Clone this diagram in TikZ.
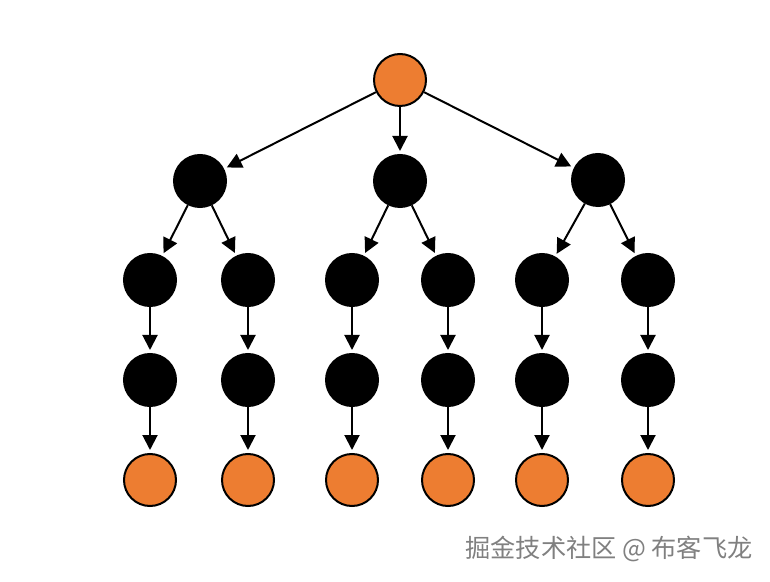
\documentclass[tikz,border=0pt]{standalone}
\usepackage{fontspec}
\newfontfamily\cjkfont{Noto Sans CJK SC}
\usetikzlibrary{arrows.meta}
\definecolor{leaforange}{HTML}{ED7D31}

\begin{document}
\begin{tikzpicture}[
    x=0.5pt, y=-0.5pt,
    edge/.style={draw=black, line width=1pt,
        -{Triangle[length=7.5pt, width=7.5pt]}, shorten >=1.5pt},
    tree node/.style={draw=black, circle, minimum size=26pt,
        inner sep=0pt, line width=1pt},
    inner/.style={tree node, fill=black},
    leaf/.style={tree node, fill=leaforange},
    watermark/.style={font=\cjkfont\fontsize{12.6pt}{15pt}\selectfont,
        text=black!50, inner sep=0pt}
]
    \path[use as bounding box] (0,0) rectangle (770,582);

    % root
    \node[leaf] (root) at (400,80) {};

    % first level
    \node[inner] (a) at (200,181) {};
    \node[inner] (b) at (400,181) {};
    \node[inner] (c) at (598,180) {};

    % second level
    \node[inner] (a1) at (150,280) {};
    \node[inner] (a2) at (248,280) {};
    \node[inner] (b1) at (352,280) {};
    \node[inner] (b2) at (448,280) {};
    \node[inner] (c1) at (542,280) {};
    \node[inner] (c2) at (648,280) {};

    % third level
    \node[inner] (a1-x) at (150,380) {};
    \node[inner] (a2-x) at (248,380) {};
    \node[inner] (b1-x) at (352,380) {};
    \node[inner] (b2-x) at (448,380) {};
    \node[inner] (c1-x) at (542,380) {};
    \node[inner] (c2-x) at (648,380) {};

    % leaves
    \node[leaf] (a1-y) at (150,480) {};
    \node[leaf] (a2-y) at (248,480) {};
    \node[leaf] (b1-y) at (352,480) {};
    \node[leaf] (b2-y) at (448,480) {};
    \node[leaf] (c1-y) at (542,480) {};
    \node[leaf] (c2-y) at (648,480) {};

    % connectors
    \draw[edge] (root) -- (a);
    \draw[edge] (root) -- (b);
    \draw[edge] (root) -- (c);

    \draw[edge] (a) -- (a1);
    \draw[edge] (a) -- (a2);
    \draw[edge] (b) -- (b1);
    \draw[edge] (b) -- (b2);
    \draw[edge] (c) -- (c1);
    \draw[edge] (c) -- (c2);

    \draw[edge] (a1) -- (a1-x);
    \draw[edge] (a2) -- (a2-x);
    \draw[edge] (b1) -- (b1-x);
    \draw[edge] (b2) -- (b2-x);
    \draw[edge] (c1) -- (c1-x);
    \draw[edge] (c2) -- (c2-x);

    \draw[edge] (a1-x) -- (a1-y);
    \draw[edge] (a2-x) -- (a2-y);
    \draw[edge] (b1-x) -- (b1-y);
    \draw[edge] (b2-x) -- (b2-y);
    \draw[edge] (c1-x) -- (c1-y);
    \draw[edge] (c2-x) -- (c2-y);

    % watermark
    \node[watermark] (mark) at (609,549) {掘金技术社区 @ 布客飞龙};
\end{tikzpicture}
\end{document}
